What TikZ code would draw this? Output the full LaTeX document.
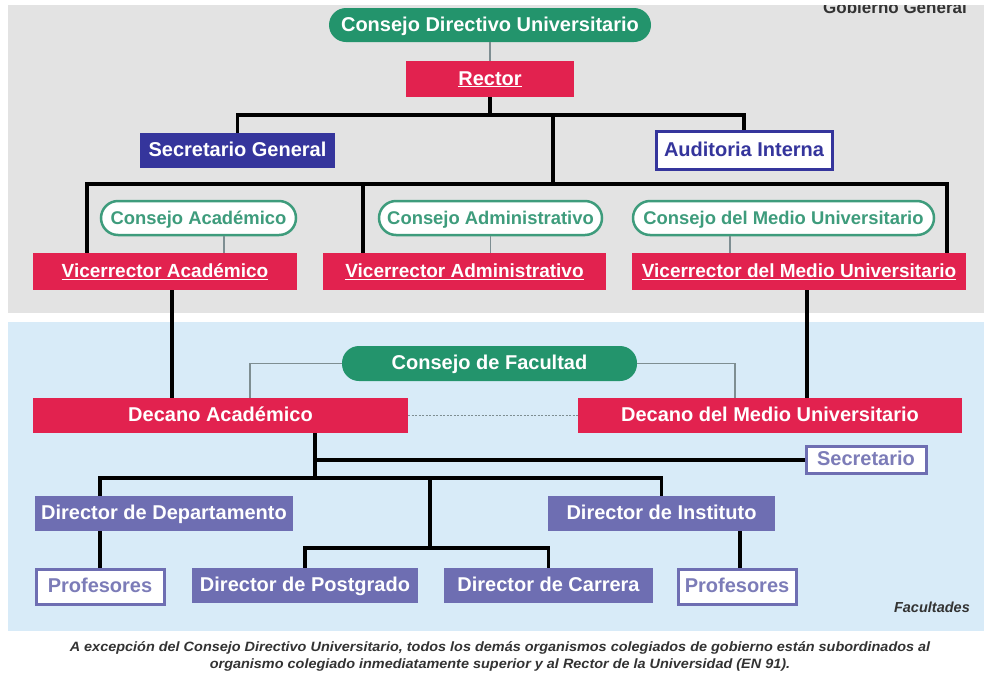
\documentclass[tikz,border=0pt]{standalone}
\usepackage{fontspec}
\setmainfont{Liberation Sans}
\usetikzlibrary{calc}
\definecolor{cdgreen}{HTML}{23946C}
\definecolor{pillgreen}{HTML}{3E9C7C}
\definecolor{crimson}{HTML}{E2224F}
\definecolor{navy}{HTML}{35359C}
\definecolor{lilac}{HTML}{6E6EB2}
\definecolor{proftext}{HTML}{7C7CB8}
\definecolor{govgray}{HTML}{E3E3E3}
\definecolor{facblue}{HTML}{D8EBF8}
\definecolor{thinline}{HTML}{7E8E92}
\definecolor{labelgray}{HTML}{333333}
\newcommand{\ul}[1]{\underline{#1}}

\begin{document}
\begin{tikzpicture}[x=1pt,y=-1pt,
  lbl/.style={font=\fontsize{20}{23}\selectfont\bfseries, inner sep=0pt, align=center,
              text height=15pt, text depth=3pt},
  small/.style={font=\fontsize{18.4}{21}\selectfont\bfseries},
  mid/.style={font=\fontsize{19}{22}\selectfont\bfseries},
  gpill/.style={lbl, rectangle, rounded corners=17pt, fill=cdgreen, text=white},
  wpill/.style={lbl, small, rectangle, rounded corners=17pt, fill=white, draw=pillgreen, line width=2.5pt, text=pillgreen},
  redbox/.style={lbl, rectangle, fill=crimson, text=white},
  navybox/.style={lbl, rectangle, fill=navy, text=white},
  outbox/.style={lbl, rectangle, fill=white, draw=navy, line width=3pt, text=navy},
  lilbox/.style={lbl, rectangle, fill=lilac, text=white},
  profbox/.style={lbl, rectangle, fill=white, draw=lilac, line width=3pt, text=proftext},
  bus/.style={line width=3.5pt, black},
  link/.style={line width=1.6pt, thinline},
]

% page and the two bands
\useasboundingbox (0,0) rectangle (984,683);
\fill[white] (0,0) rectangle (984,683);
\fill[govgray] (8,5) rectangle (984,313);
\fill[facblue] (8,322) rectangle (984,631);

% band labels
\begin{scope}
  \clip (8,5) rectangle (984,313);
  \node[font=\fontsize{17}{19}\selectfont\bfseries, text=labelgray, anchor=base east, inner sep=0pt] (gob) at (967,13) {Gobierno General};
\end{scope}
\node[font=\fontsize{14.5}{16}\selectfont\bfseries\itshape, text=labelgray, anchor=east, inner sep=0pt] (fac) at (970,607) {Facultades};

% governing bodies
\node[gpill, minimum width=322pt, minimum height=34pt] (cdu) at (490,25) {Consejo Directivo Universitario};
\node[redbox, minimum width=168pt, minimum height=36pt] (rector) at (490,79) {\ul{Rector}};
\node[navybox, minimum width=195pt, minimum height=35pt] (secgen) at (237.5,150.5) {Secretario General};
\node[outbox, minimum width=176pt, minimum height=38pt] (audit) at (744,150.5) {Auditoria Interna};

\node[wpill, minimum width=195pt, minimum height=34pt] (cacad) at (198.5,218) {Consejo Académico};
\node[wpill, minimum width=223pt, minimum height=34pt] (cadm) at (490.5,218) {Consejo Administrativo};
\node[wpill, minimum width=301pt, minimum height=34pt] (cmed) at (783.5,218) {Consejo del Medio Universitario};

\node[redbox, mid, minimum width=264pt, minimum height=37pt] (vacad) at (165,271.5) {\ul{Vicerrector Académico}};
\node[redbox, mid, minimum width=283pt, minimum height=37pt] (vadm) at (464.5,271.5) {\ul{Vicerrector Administrativo}};
\node[redbox, mid, minimum width=334pt, minimum height=37pt] (vmed) at (799,271.5) {\ul{Vicerrector del Medio Universitario}};

% faculty bodies
\node[gpill, minimum width=295pt, minimum height=35pt] (cfac) at (489.5,363.5) {Consejo de Facultad};
\node[redbox, minimum width=375pt, minimum height=35pt] (dacad) at (220.5,415.5) {Decano Académico};
\node[redbox, minimum width=384pt, minimum height=35pt] (dmed) at (770,415.5) {Decano del Medio Universitario};
\node[outbox, minimum width=120pt, minimum height=27pt, draw=lilac, text=proftext] (secr) at (866,459.5) {Secretario};

\node[lilbox, minimum width=258pt, minimum height=35pt] (ddep) at (164,513.5) {Director de Departamento};
\node[lilbox, minimum width=227pt, minimum height=35pt] (dinst) at (661.5,513.5) {Director de Instituto};
\node[lilbox, minimum width=226pt, minimum height=35pt] (dpost) at (305,585.5) {Director de Postgrado};
\node[lilbox, minimum width=209pt, minimum height=35pt] (dcarr) at (548.5,585.5) {Director de Carrera};
\node[profbox, minimum width=128pt, minimum height=35pt] (prof1) at (100,586.5) {Profesores};
\node[profbox, minimum width=118pt, minimum height=35pt] (prof2) at (737,586.5) {Profesores};

% junctions of the busses
\coordinate (j1) at (490,115);
\coordinate (j2) at (553,184);
\coordinate (j3) at (315,478);
\coordinate (j4) at (430,548);
\coordinate (js) at (315,460);

% connectors: governing level
\draw[link] (cdu.south) -- (rector.north);
\draw[bus] (rector.south) -- (j1);
\draw[bus] (secgen.north) |- (j1) -| (audit.north);
\draw[bus] (j2 |- j1) -- (j2);
\draw[bus] (vacad.north -| 87,0) |- (j2) -| (vmed.north -| 947,0);
\draw[bus] (j2 -| 363,0) -- (vadm.north -| 363,0);
\draw[link] (cacad.south -| 224,0) -- (vacad.north -| 224,0);
\draw[link] (cadm.south) -- (vadm.north -| cadm.south);
\draw[link] (cmed.south -| 730,0) -- (vmed.north -| 730,0);

% connectors: faculty level
\draw[bus] (vacad.south -| 172,0) -- (dacad.north -| 172,0);
\draw[bus] (vmed.south -| 807,0) -- (dmed.north -| 807,0);
\draw[link] (cfac.west) -| (dacad.north -| 250,0);
\draw[link] (cfac.east) -| (dmed.north -| 735,0);
\draw[link, dash pattern=on 2pt off 1.5pt] (dacad.east) -- (dmed.west |- dacad.east);
\draw[bus] (dacad.south -| j3) -- (j3);
\draw[bus] (js) -- (secr.west |- js);
\draw[bus] (ddep.north -| 100,0) |- (j3) -| (dinst.north);
\draw[bus] (j3 -| j4) -- (j4);
\draw[bus] (dpost.north) |- (j4) -| (dcarr.north);
\draw[bus] (ddep.south -| prof1.north) -- (prof1.north);
\draw[bus] (dinst.south -| 740,0) -- (prof2.north -| 740,0);

% footnote
\node[font=\fontsize{13.5}{17}\selectfont\bfseries\itshape, text=labelgray, align=center, inner sep=0pt, xscale=1.07] (note) at (500,656)
  {A excepción del Consejo Directivo Universitario, todos los demás organismos colegiados de gobierno están subordinados al\\
   organismo colegiado inmediatamente superior y al Rector de la Universidad (EN 91).};
\end{tikzpicture}
\end{document}
